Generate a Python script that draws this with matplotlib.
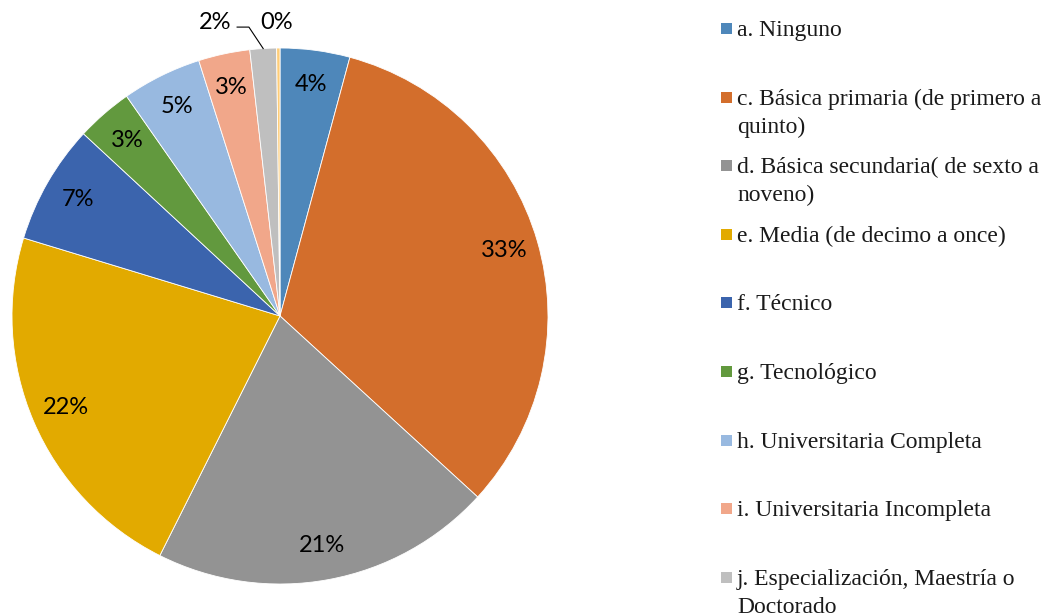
import numpy as np
import matplotlib.pyplot as plt
from matplotlib.patches import Rectangle

# datos
categorias = ['a. Ninguno',
              'c. Básica primaria (de primero a\nquinto)',
              'd. Básica secundaria( de sexto a\nnoveno)',
              'e. Media (de decimo a once)',
              'f. Técnico',
              'g. Tecnológico',
              'h. Universitaria Completa',
              'i. Universitaria Incompleta',
              'j. Especialización, Maestría o\nDoctorado',
              'k. Otro']
valores = [4.2, 32.6, 20.6, 22.3, 7.2, 3.4, 4.8, 3.1, 1.6, 0.2]
colores = ['#4E87BA', '#D36E2C', '#939393', '#E2AA00', '#3B64AD',
           '#62993E', '#98B9E0', '#F1A78A', '#BFBFBF', '#FFCD77']
n_leyenda = 9  # la última categoría no aparece en la leyenda

W, H = 1058, 615
fig = plt.figure(figsize=(W / 100, H / 100), dpi=100)

# pastel: centro (280, 316) px, radio 268 px
cx, cy, R = 280, 316, 268
ax = fig.add_axes([(cx - R) / W, (H - cy - R) / H, 2 * R / W, 2 * R / H])
wedges, textos, autotextos = ax.pie(
    valores, colors=colores, startangle=90, counterclock=False, radius=1,
    autopct='%1.0f%%', pctdistance=0.87,
    wedgeprops=dict(edgecolor='white', linewidth=0.6),
    textprops=dict(fontsize=17, family='Lato', color='black'))
ax.set_xlim(-1, 1)
ax.set_ylim(-1, 1)
ax.set_aspect('equal')
ax.axis('off')

# etiquetas pequeñas fuera del pastel
w = wedges[8]
ang = np.deg2rad((w.theta1 + w.theta2) / 2)
px, py = np.cos(ang), np.sin(ang)
ax.plot([px, -0.116, -0.16], [py, 1.078, 1.078], color='black', lw=0.8,
        clip_on=False)
autotextos[8].set_position((-0.243, 1.097))
autotextos[8].set_ha('center')
autotextos[9].set_position((-0.011, 1.097))
autotextos[9].set_ha('center')

# leyenda manual
y0, paso = 36, 68.6
for i in range(n_leyenda):
    yb = y0 + i * paso
    lineas = categorias[i].split('\n')
    fig.patches.append(Rectangle((721 / W, 1 - (yb - 2) / H), 11 / W, 11 / H,
                                 transform=fig.transFigure,
                                 facecolor=colores[i], edgecolor='none'))
    for k, linea in enumerate(lineas):
        fig.text(737 / W, 1 - (yb + k * 28) / H, linea, fontsize=17,
                 family='Liberation Serif', va='baseline', ha='left',
                 color='#1a1a1a')

fig.savefig('out.png', dpi=100)
